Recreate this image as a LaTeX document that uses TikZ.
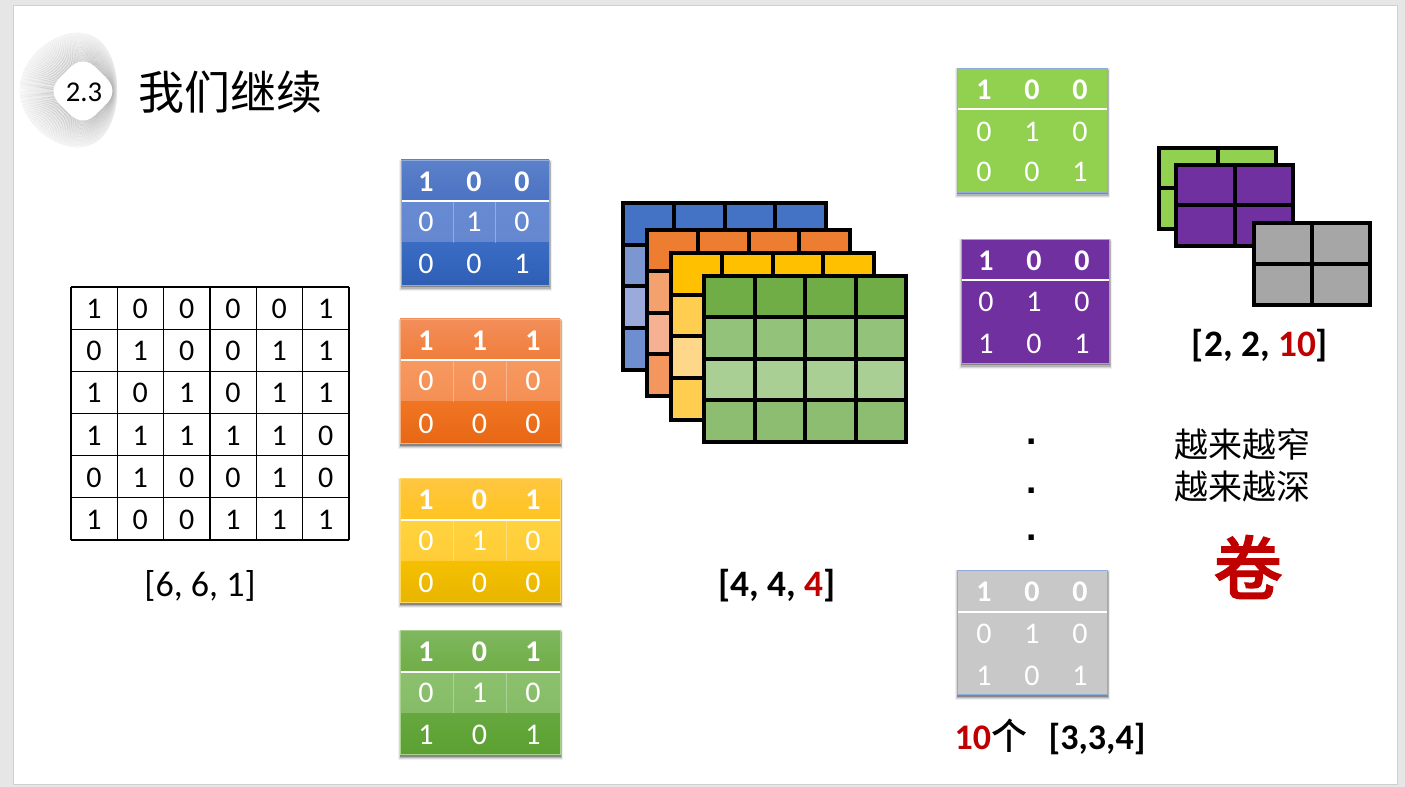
\documentclass[tikz,border=0pt]{standalone}
\usepackage{fontspec}
\setmainfont{Carlito}
\newfontfamily\cjk{Noto Sans CJK SC}
\newfontfamily\cjkm{Noto Sans CJK SC Medium}
\newfontfamily\cjkf[FakeBold=1.6]{Noto Sans CJK SC Medium}
\newfontfamily\arialb{Liberation Sans Bold}
\usetikzlibrary{calc}
\definecolor{redd}{HTML}{C00000}
\newcommand\dc[1]{\definecolor{#1}{HTML}{#1}}
\dc{5B81C9}\dc{4B72C3}\dc{678BD2}\dc{6487CF}\dc{3A6CC4}\dc{2F5FB5}
\dc{F38E5A}\dc{F07D3A}\dc{F7995F}\dc{F48F55}\dc{F07522}\dc{E76715}
\dc{FFC642}\dc{FFC41E}\dc{FFD33F}\dc{FFCC36}\dc{F5C000}\dc{E8B500}
\dc{7FB75F}\dc{70AD47}\dc{8CC06E}\dc{86BC66}\dc{66A83E}\dc{5BA031}
\dc{92D050}\dc{7030A0}\dc{C8C8C8}\dc{E6E6E6}\dc{D0D0D0}
\dc{4472C4}\dc{7C97D0}\dc{9AABDB}\dc{6F8ECF}
\dc{ED7D31}\dc{F3A26F}\dc{F6B193}\dc{F4975F}
\dc{FFC000}\dc{FFCD50}\dc{FFD78A}
\dc{93C27A}\dc{A9CF95}\dc{8DBD70}\dc{A6A6A6}\dc{8FAADC}\dc{F4B183}\dc{FFD966}\dc{A9D18E}
\tikzset{
  x=0.75pt,y=-0.75pt,
  lbl/.style={inner sep=0pt,outer sep=0pt,anchor=center},
  griddig/.style={lbl,font=\fontsize{22.5}{24}\selectfont,text=black},
  headdig/.style={lbl,font=\fontsize{22.5}{24}\selectfont\bfseries,text=white},
  bodydig/.style={lbl,font=\fontsize{22.5}{24}\selectfont,text=white},
  stackline/.style={line width=3pt,draw=black},
  sepline/.style={draw=white,draw opacity=.3,line width=.6pt},
  blue a/.style={top color=5B81C9,bottom color=4B72C3},
  blue b/.style={top color=678BD2,bottom color=6487CF},
  blue c/.style={top color=3A6CC4,bottom color=2F5FB5},
  blue e/.style={draw=8FAADC},
  orange a/.style={top color=F38E5A,bottom color=F07D3A},
  orange b/.style={top color=F7995F,bottom color=F48F55},
  orange c/.style={top color=F07522,bottom color=E76715},
  orange e/.style={draw=F4B183},
  yellow a/.style={top color=FFC642,bottom color=FFC41E},
  yellow b/.style={top color=FFD33F,bottom color=FFCC36},
  yellow c/.style={top color=F5C000,bottom color=E8B500},
  yellow e/.style={draw=FFD966},
  green a/.style={top color=7FB75F,bottom color=70AD47},
  green b/.style={top color=8CC06E,bottom color=86BC66},
  green c/.style={top color=66A83E,bottom color=5BA031},
  green e/.style={draw=A9D18E},
  lime a/.style={fill=92D050},lime b/.style={fill=92D050},lime c/.style={fill=92D050},lime e/.style={draw=8FAADC},
  purp a/.style={fill=7030A0},purp b/.style={fill=7030A0},purp c/.style={fill=7030A0},purp e/.style={draw=8FAADC},
  grey a/.style={fill=C8C8C8},grey b/.style={fill=C8C8C8},grey c/.style={fill=C8C8C8},grey e/.style={draw=8FAADC},
}
% #1 name #2 x0 #3 y0 #4 x1 #5 y1 #6 colour family #7 first column centre #8 column step #9 rows
\newcommand\mtab[9]{%
  \fill[black,opacity=.06] (#2-2,#3) rectangle (#4+3,#5+6);
  \fill[black,opacity=.10] (#2-1,#3+1) rectangle (#4+2,#5+5);
  \fill[black,opacity=.16] (#2,#3+2) rectangle (#4+1.5,#5+4);
  \fill[black,opacity=.25] (#2,#3+2) rectangle (#4+1,#5+2.5);
  \path[#6 a] (#2,#3) rectangle (#4,#3+41.5);
  \path[#6 b] (#2,#3+41.5) rectangle (#4,#3+83);
  \path[#6 c] (#2,#3+83) rectangle (#4,#5);
  \draw[white,line width=1.5pt] (#2,#3+41.5) -- (#4,#3+41.5);
  \draw[#6 e,line width=.6pt] (#2,#3) rectangle (#4,#5);
  \foreach \r/\a/\b/\c/\sty/\dy in {#9}{
    \node[\sty] (#1-\r-1) at (#7,#3+\dy) {\a};
    \node[\sty] (#1-\r-2) at (#7+#8,#3+\dy) {\b};
    \node[\sty] (#1-\r-3) at (#7+#8+#8,#3+\dy) {\c};
  }%
}
% #1 x0 #2 y0 #3 x1 #4 y1 (outer extents) #5..#8 row colours
\newcommand\stackfour[8]{%
  \pgfmathsetmacro\xa{#1+2}\pgfmathsetmacro\xb{#3-2}
  \pgfmathsetmacro\ya{#2+2}\pgfmathsetmacro\yb{#4-2}
  \pgfmathsetmacro\dx{(\xb-\xa)/4}\pgfmathsetmacro\dy{(\yb-\ya)/4}
  \fill[#5] (\xa,\ya) rectangle (\xb,\ya+\dy);
  \fill[#6] (\xa,\ya+\dy) rectangle (\xb,\ya+2*\dy);
  \fill[#7] (\xa,\ya+2*\dy) rectangle (\xb,\ya+3*\dy);
  \fill[#8] (\xa,\ya+3*\dy) rectangle (\xb,\yb);
  \foreach \i in {1,2,3}{
    \draw[stackline] (\xa+\i*\dx,\ya) -- (\xa+\i*\dx,\yb);
    \draw[stackline] (\xa,\ya+\i*\dy) -- (\xb,\ya+\i*\dy);
  }
  \draw[stackline,line join=miter] (\xa,\ya) rectangle (\xb,\yb);
}
\newcommand\stacktwo[5]{%
  \pgfmathsetmacro\xa{#1+2}\pgfmathsetmacro\xb{#3-2}
  \pgfmathsetmacro\ya{#2+2}\pgfmathsetmacro\yb{#4-2}
  \fill[#5] (\xa,\ya) rectangle (\xb,\yb);
  \draw[stackline] ({(\xa+\xb)/2},\ya) -- ({(\xa+\xb)/2},\yb);
  \draw[stackline] (\xa,{(\ya+\yb)/2}) -- (\xb,{(\ya+\yb)/2});
  \draw[stackline] (\xa,\ya) rectangle (\xb,\yb);
}
\begin{document}
\begin{tikzpicture}
\path[use as bounding box,fill=E6E6E6] (0,0) rectangle (1405,787);
\fill[white] (13,5) rectangle (1397,784);
\draw[D0D0D0,line width=.5pt] (13,5) rectangle (1397,784);

% logo rings
\foreach \t in {0,0.03,...,1.0001}{
  \pgfmathsetmacro\shade{8+24*\t}
  \draw[black!\shade,line width=.25pt]
    plot[smooth cycle,domain=0:355,samples=72,variable=\q]
    ({(1-\t)*(71.5+48.5*cos(\q)-3*cos(2*\q))+\t*(83+27.5*(1+.07*cos(4*\q))*cos(\q))},
     {(1-\t)*(90+57*sin(\q)+2*sin(2*\q))+\t*(91+27.5*(1+.07*cos(4*\q))*sin(\q))});
}
\fill[white] plot[smooth cycle,domain=0:355,samples=72,variable=\q]
    ({83+27.5*(1+.07*cos(4*\q))*cos(\q)},{91+27.5*(1+.07*cos(4*\q))*sin(\q)});
\node[lbl,font=\fontsize{21.5}{24}\selectfont] (num) at (84,92) {2.3};
\node[lbl,font=\fontsize{34.5}{40}\selectfont\cjk] (title) at (230,92) {我们继续};

% left grid
\foreach \i in {0,...,6}{
  \draw[black,line width=.95pt] ({71+\i*46.33},287) -- ({71+\i*46.33},540);
  \draw[black,line width=.95pt] (71,{287+\i*42.17}) -- (349,{287+\i*42.17});
}
\foreach \r/\row in {1/{1,0,0,0,0,1},2/{0,1,0,0,1,1},3/{1,0,1,0,1,1},4/{1,1,1,1,1,0},5/{0,1,0,0,1,0},6/{1,0,0,1,1,1}}{
  \foreach \v [count=\c] in \row {
    \node[griddig] (g-\r-\c) at ({94+(\c-1)*46.33},{309+(\r-1)*42.17}) {\v};
  }
}
\node[lbl,font=\fontsize{27}{34}\selectfont] (shapea) at (200,586) {[6, 6, 1]};

% coloured filters
\mtab{blue}{401}{160}{549}{285}{blue}{426}{48}{1/1/0/0/headdig/22,2/0/1/0/bodydig/62,3/0/0/1/bodydig/104}
\draw[sepline] (453,201.5) -- (453,243);
\draw[sepline] (495,201.5) -- (495,243);
\mtab{orange}{400}{319}{560}{443}{orange}{426}{53.5}{1/1/1/1/headdig/22,2/0/0/0/bodydig/62,3/0/0/0/bodydig/105}
\draw[sepline] (453.5,360.5) -- (453.5,402);
\draw[sepline] (506.5,360.5) -- (506.5,402);
\mtab{yellow}{400}{478}{560}{602}{yellow}{426}{53.5}{1/1/0/1/headdig/22,2/0/1/0/bodydig/63,3/0/0/0/bodydig/105}
\draw[sepline] (453.5,519.5) -- (453.5,561);
\draw[sepline] (506.5,519.5) -- (506.5,561);
\mtab{green}{400}{630}{560}{754}{green}{426}{53.5}{1/1/0/1/headdig/22,2/0/1/0/bodydig/63,3/1/0/1/bodydig/105}
\draw[sepline] (453.5,671.5) -- (453.5,713);
\draw[sepline] (506.5,671.5) -- (506.5,713);

% 4-layer stack
\stackfour{621}{201}{828}{372}{4472C4}{7C97D0}{9AABDB}{6F8ECF}
\stackfour{645}{228}{852}{398}{ED7D31}{F3A26F}{F6B193}{F4975F}
\stackfour{669}{251}{876}{422}{FFC000}{FFCD50}{FFD78A}{FFCD50}
\stackfour{702}{274}{908}{444}{70AD47}{93C27A}{A9CF95}{8DBD70}
\node[lbl,font=\fontsize{28}{30}\selectfont\bfseries] (shapeb) at (777,586) {[4, 4, \textcolor{redd}{4}]};

% right filters
\mtab{lime}{957}{68}{1107}{192}{lime}{984}{48}{1/1/0/0/headdig/22,2/0/1/0/bodydig/64,3/0/0/1/bodydig/104}
\mtab{purple}{961}{239}{1109}{363}{purp}{986}{48}{1/1/0/0/headdig/22,2/0/1/0/bodydig/63,3/1/0/1/bodydig/105}
\foreach \n/\yy in {d1/442,d2/491,d3/538}{
  \node[lbl,font=\fontsize{28}{30}\selectfont\arialb] (\n) at (1032,\yy) {.};
}
\mtab{grey}{957}{570}{1107}{694}{grey}{984}{48}{1/1/0/0/headdig/22,2/0/1/0/bodydig/64,3/1/0/1/bodydig/106}
\node[lbl,font=\fontsize{27}{30}\selectfont\bfseries] (shapec) at (1050,737) {\textcolor{redd}{10}{\mdseries\cjkm 个}\hspace{.6em}[3,3,4]};

% 2x2 stack
\stacktwo{1157}{146}{1278}{231}{92D050}
\stacktwo{1174}{163}{1295}{248}{7030A0}
\stacktwo{1252}{221}{1372}{307}{A6A6A6}
\node[lbl,font=\fontsize{28}{30}\selectfont\bfseries] (shaped) at (1260,346) {[2, 2, \textcolor{redd}{10}]};

\node[lbl,font=\fontsize{25.5}{30}\selectfont\cjk] (narrow) at (1242,444) {越来越窄};
\node[lbl,font=\fontsize{25.5}{30}\selectfont\cjk] (deep) at (1242,487) {越来越深};
\node[lbl,font=\fontsize{52}{56}\selectfont\cjkf,text=redd] (juan) at (1248,567) {卷};
\end{tikzpicture}
\end{document}
